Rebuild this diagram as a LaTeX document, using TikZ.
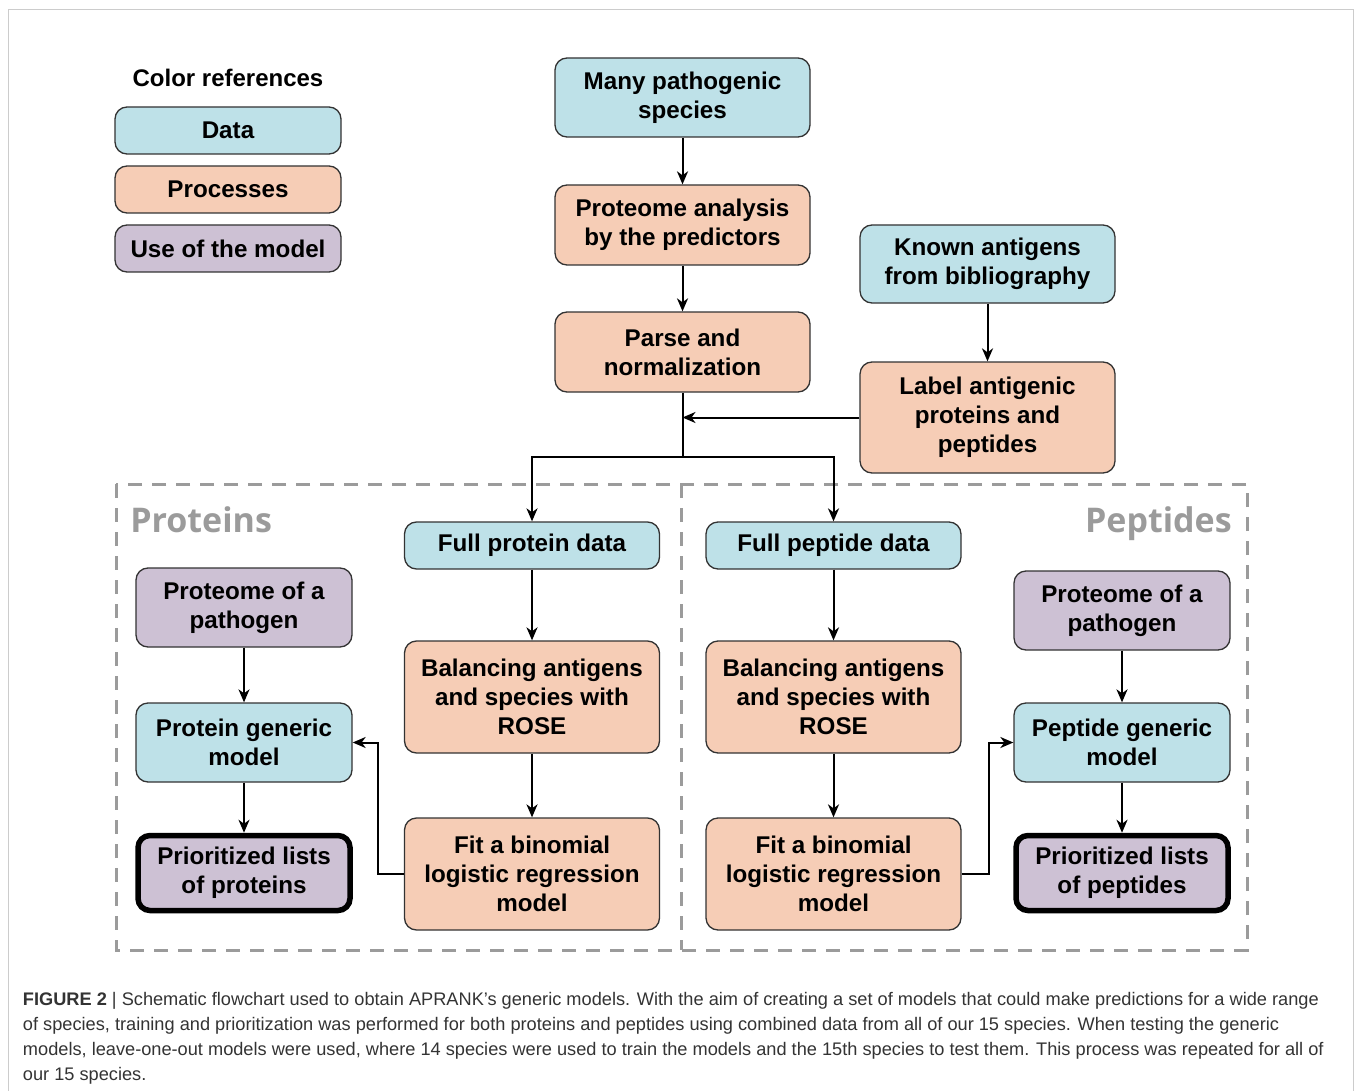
\documentclass[tikz,border=0pt]{standalone}
\usepackage{fontspec}
\setmainfont{Liberation Sans}
\newfontfamily\groupfont{Open Sans}
\usetikzlibrary{positioning,arrows.meta}

\definecolor{datacol}{HTML}{BEE1E8}
\definecolor{proccol}{HTML}{F6CDB6}
\definecolor{usecol}{HTML}{CDC1D4}
\definecolor{framecol}{HTML}{9B9B9B}

\begin{document}
\begin{tikzpicture}[x=1pt,y=-1pt,
    >={Stealth[length=13pt,width=11pt,inset=4pt]},line width=2pt,
    box/.style={draw=black!80,line width=1.3pt,rounded corners=12pt,
      align=center,inner sep=0pt,text=black,
      font=\fontsize{24.2}{29}\selectfont\bfseries},
    data/.style={box,fill=datacol},
    proc/.style={box,fill=proccol},
    use/.style={box,fill=usecol},
    result/.style={use,draw=black,line width=5.5pt},
    wide/.style={minimum width=255pt},
    narrow/.style={minimum width=216pt},
    group/.style={text=framecol,font=\fontsize{34}{36}\selectfont\groupfont\bfseries}]

  \useasboundingbox (0,0) rectangle (1354,1091);
  \draw[black!20,line width=1pt] (8,1091) -- (8,10) -- (1353,10) -- (1353,1091);

  % Legend
  \node[font=\fontsize{24}{26}\selectfont\bfseries] (legend) at (228,78) {Color references};
  \node[data,minimum width=226pt,minimum height=47pt] (kdata) at (228,130.5) {Data};
  \node[proc,minimum width=226pt,minimum height=47pt] (kproc) at (228,189.5) {Processes};
  \node[use,minimum width=226pt,minimum height=47pt] (kuse) at (228,248.5) {Use of the model};

  % Common steps
  \node[data,wide,minimum height=79pt] (many) at (682.5,97.5) {Many pathogenic\\species};
  \node[proc,wide,minimum height=80pt] (predict) at (682.5,225) {Proteome analysis\\by the predictors};
  \node[proc,wide,minimum height=80pt] (parse) at (682.5,352) {Parse and\\normalization};
  \node[data,wide,minimum height=78pt] (known) at (987.5,264) {Known antigens\\from bibliography};
  \node[proc,wide,minimum height=111pt] (label) at (987.5,417.5) {Label antigenic\\proteins and\\peptides};

  % Groups
  \draw[framecol,line width=3pt,dash pattern=on 14pt off 10pt] (116,484) rectangle (1247,950);
  \draw[framecol,line width=3pt,dash pattern=on 14pt off 10pt] (681,484) -- (681,950);
  \node[group,anchor=base west] (prots) at (126,532) {Proteins};
  \node[group,anchor=base east] (peps) at (1236,532) {Peptides};

  % Proteins
  \node[data,wide,minimum height=47pt] (fullprot) at (532,545.5) {Full protein data};
  \node[proc,wide,minimum height=112pt] (balprot) at (532,697) {Balancing antigens\\and species with\\ROSE};
  \node[proc,wide,minimum height=112pt] (fitprot) at (532,874) {Fit a binomial\\logistic regression\\model};
  \node[use,narrow,minimum height=79pt] (pathprot) at (244,607.5) {Proteome of a\\pathogen};
  \node[data,narrow,minimum height=79pt] (modprot) at (244,742.5) {Protein generic\\model};
  \node[result,minimum width=212pt,minimum height=75pt] (listprot) at (244,873) {Prioritized lists\\of proteins};

  % Peptides
  \node[data,wide,minimum height=47pt] (fullpep) at (833.5,545.5) {Full peptide data};
  \node[proc,wide,minimum height=112pt] (balpep) at (833.5,697) {Balancing antigens\\and species with\\ROSE};
  \node[proc,wide,minimum height=112pt] (fitpep) at (833.5,874) {Fit a binomial\\logistic regression\\model};
  \node[use,narrow,minimum height=79pt] (pathpep) at (1122,610.5) {Proteome of a\\pathogen};
  \node[data,narrow,minimum height=79pt] (modpep) at (1122,742.5) {Peptide generic\\model};
  \node[result,minimum width=212pt,minimum height=75pt] (listpep) at (1122,873) {Prioritized lists\\of peptides};

  % Transitions
  \coordinate (split) at (682.5,457);
  \path[->] (many) edge (predict);
  \path[->] (predict) edge (parse);
  \path[->] (known) edge (label);
  \draw (parse.south) -- (split);
  \draw[->] (label.west) -- (label.west -| parse.south);
  \draw[->] (split) -| (fullprot.north);
  \draw[->] (split) -| (fullpep.north);
  \path[->] (fullprot) edge (balprot);
  \path[->] (balprot) edge (fitprot);
  \path[->] (fullpep) edge (balpep);
  \path[->] (balpep) edge (fitpep);
  \path[->] (pathprot) edge (modprot);
  \path[->] (modprot) edge (listprot);
  \path[->] (pathpep) edge (modpep);
  \path[->] (modpep) edge (listpep);
  \draw[->] (fitprot.west) -- ++(-26,0) |- (modprot.east);
  \draw[->] (fitpep.east) -- ++(27,0) |- (modpep.east -| pathpep.west);

  % Caption
  \node[anchor=north west,align=left,inner sep=0pt,text=black!80,
    font=\fontsize{18.2}{25}\selectfont] (caption) at (22,991)
    {\textbf{FIGURE 2} | Schematic flowchart used to obtain APRANK’s generic models. With the aim of creating a set of models that could make predictions for a wide range\\
     of species, training and prioritization was performed for both proteins and peptides using combined data from all of our 15 species. When testing the generic\\
     models, leave-one-out models were used, where 14 species were used to train the models and the 15th species to test them. This process was repeated for all of\\
     our 15 species.};
\end{tikzpicture}
\end{document}
